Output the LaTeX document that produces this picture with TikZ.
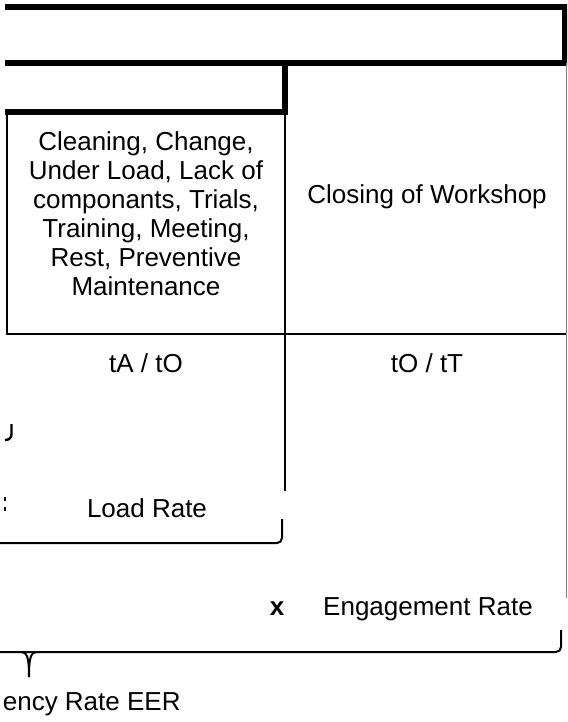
\documentclass[tikz,border=0pt]{standalone}
\usepackage{fontspec}
\setmainfont{Liberation Sans}
\begin{document}
\begin{tikzpicture}[x=0.5pt,y=-0.5pt,
    thickline/.style={line width=3pt},
    rule/.style={line width=1.4pt},
    brace/.style={line width=1pt, rounded corners=2.5pt},
    lbl/.style={font=\fontsize{13}{14.5}\selectfont, align=center, inner sep=0pt}]
    \useasboundingbox (0,0) rectangle (567,722);
    \clip (0,0) rectangle (567,722);
    % frame at the top
    \draw[thickline] (5,7) -- (565,7) -- (565,63) -- (5,63);
    \draw[thickline] (285,63) -- (285,112) -- (5,112);
    % table lines
    \draw[rule] (7,112) -- (7,334) -- (566,334);
    \draw[rule] (285,112) -- (285,491);
    \draw[gray, line width=0.5pt] (566,63) -- (566,598);
    % labels
    \node[lbl] (causes) at (146,214) {Cleaning, Change,\\Under Load, Lack of\\componants, Trials,\\Training, Meeting,\\Rest, Preventive\\Maintenance};
    \node[lbl] (closing) at (427,197) {Closing of Workshop};
    \node[lbl] (tato) at (146,363) {tA / tO};
    \node[lbl] (tott) at (427,363) {tO / tT};
    \node[lbl] (load) at (147,508) {Load Rate};
    \node[lbl, font=\fontsize{13}{14.5}\selectfont\bfseries] (times) at (277,609) {x};
    \node[lbl] (engage) at (428,609) {Engagement Rate};
    \node[lbl, anchor=east] (eer) at (181,704) {ency Rate EER};
    % braces
    \draw[brace] (-10,543) -- (282,543) -- (282,519);
    \draw[brace] (-10,652) -- (561,652) -- (561,630);
    \draw[line width=1pt] (20,652) .. controls (27,652) and (29,656) .. (29,677);
    \draw[line width=1pt] (38,652) .. controls (31,652) and (29,656) .. (29,677);
    \draw[line width=1.2pt] (11.5,424) -- (11.5,434) .. controls (11.5,438) and (9,440) .. (5,440);
    \fill (3.5,497) rectangle (5.5,501);
    \fill (3.5,507) rectangle (5.5,511);
\end{tikzpicture}
\end{document}
